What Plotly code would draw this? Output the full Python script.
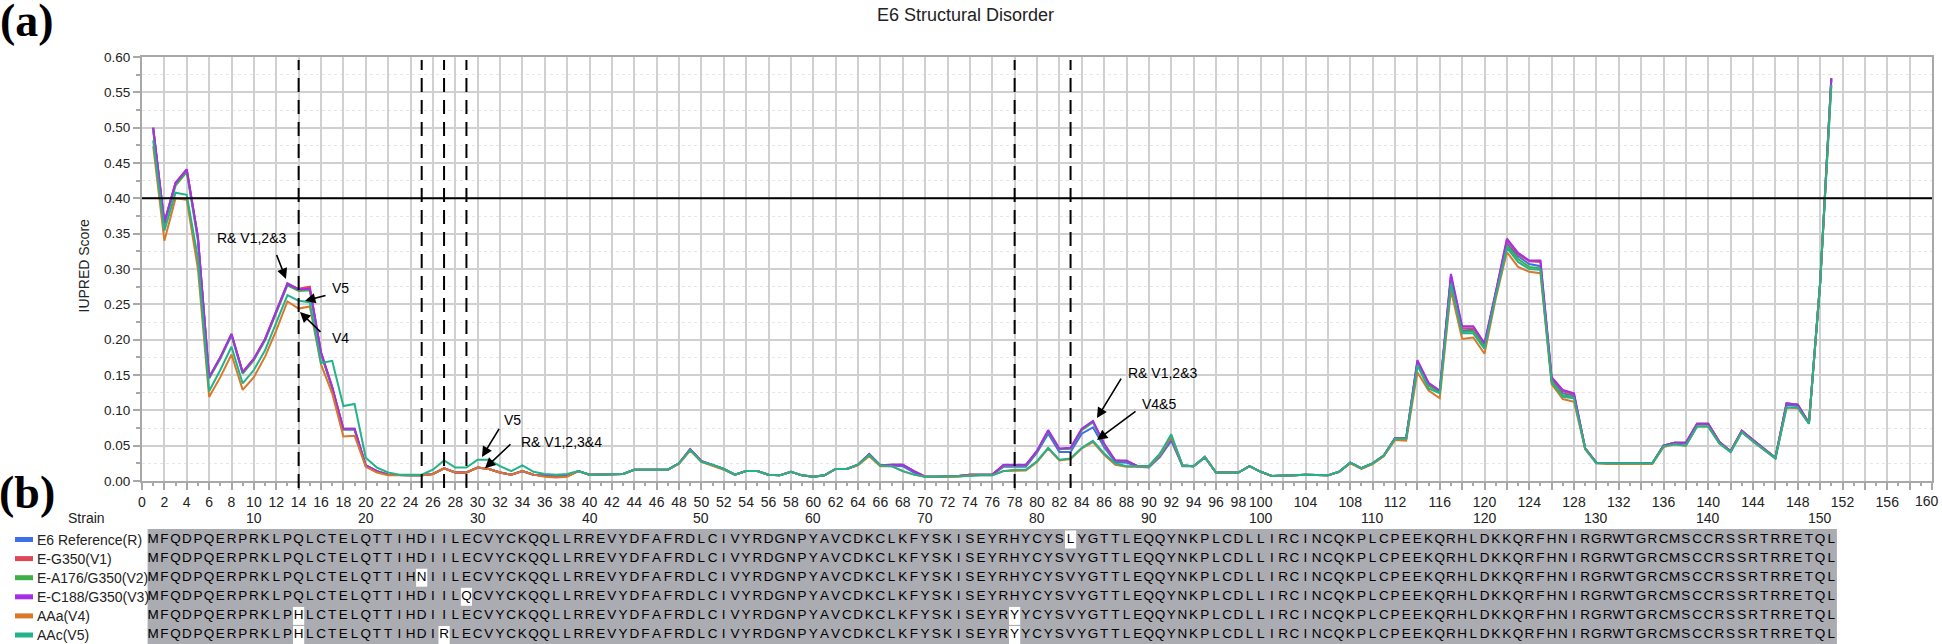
import plotly.graph_objects as go

# ---------------- data ----------------
positions = list(range(1, 152))

strains = ["E6 Reference(R)", "E-G350(V1)", "E-A176/G350(V2)",
           "E-C188/G350(V3)", "AAa(V4)", "AAc(V5)"]
colors = ["#3F6FE8", "#E0465A", "#3DAE49", "#A52EE8", "#D9782A", "#22B38A"]

score_R = [
    0.499, 0.365, 0.421, 0.440, 0.344, 0.146, 0.174, 0.207, 0.153, 0.172,
    0.200, 0.239, 0.280, 0.271, 0.272, 0.181, 0.132, 0.073, 0.073, 0.022,
    0.014, 0.009, 0.008, 0.008, 0.008, 0.010, 0.018, 0.012, 0.012, 0.019,
    0.017, 0.012, 0.009, 0.014, 0.009, 0.007, 0.006, 0.007, 0.014, 0.009,
    0.009, 0.009, 0.010, 0.016, 0.016, 0.016, 0.016, 0.025, 0.045, 0.028,
    0.023, 0.017, 0.009, 0.014, 0.014, 0.009, 0.008, 0.013, 0.008, 0.006,
    0.008, 0.017, 0.017, 0.023, 0.038, 0.022, 0.022, 0.021, 0.012, 0.006,
    0.006, 0.006, 0.007, 0.009, 0.009, 0.009, 0.020, 0.020, 0.020, 0.040,
    0.067, 0.041, 0.041, 0.067, 0.076, 0.048, 0.027, 0.026, 0.020, 0.019,
    0.034, 0.057, 0.021, 0.021, 0.033, 0.012, 0.012, 0.012, 0.021, 0.013,
    0.007, 0.007, 0.008, 0.009, 0.009, 0.008, 0.013, 0.026, 0.018, 0.025,
    0.036, 0.060, 0.060, 0.167, 0.136, 0.126, 0.288, 0.213, 0.214, 0.192,
    0.265, 0.336, 0.318, 0.307, 0.304, 0.144, 0.124, 0.121, 0.046, 0.026,
    0.025, 0.025, 0.025, 0.025, 0.025, 0.050, 0.054, 0.053, 0.080, 0.080,
    0.055, 0.042, 0.071, 0.058, 0.045, 0.033, 0.108, 0.106, 0.082, 0.280,
    0.568]

score_V1 = [
    0.500, 0.366, 0.422, 0.441, 0.345, 0.147, 0.175, 0.208, 0.154, 0.173,
    0.201, 0.239, 0.279, 0.272, 0.275, 0.182, 0.133, 0.074, 0.074, 0.022,
    0.014, 0.009, 0.008, 0.008, 0.008, 0.010, 0.018, 0.012, 0.012, 0.019,
    0.017, 0.012, 0.009, 0.014, 0.009, 0.007, 0.006, 0.007, 0.014, 0.009,
    0.009, 0.009, 0.010, 0.016, 0.016, 0.016, 0.016, 0.025, 0.045, 0.028,
    0.023, 0.017, 0.009, 0.014, 0.014, 0.009, 0.008, 0.013, 0.008, 0.006,
    0.008, 0.017, 0.017, 0.023, 0.038, 0.022, 0.023, 0.023, 0.014, 0.006,
    0.006, 0.006, 0.007, 0.009, 0.009, 0.009, 0.022, 0.022, 0.022, 0.042,
    0.071, 0.045, 0.046, 0.073, 0.084, 0.052, 0.029, 0.028, 0.021, 0.021,
    0.038, 0.062, 0.022, 0.021, 0.034, 0.012, 0.012, 0.012, 0.021, 0.013,
    0.007, 0.007, 0.008, 0.009, 0.009, 0.008, 0.013, 0.026, 0.018, 0.025,
    0.036, 0.061, 0.061, 0.169, 0.138, 0.127, 0.290, 0.216, 0.216, 0.194,
    0.266, 0.340, 0.321, 0.311, 0.310, 0.146, 0.127, 0.123, 0.046, 0.026,
    0.025, 0.025, 0.025, 0.025, 0.025, 0.050, 0.054, 0.054, 0.081, 0.081,
    0.055, 0.042, 0.071, 0.058, 0.045, 0.033, 0.110, 0.108, 0.082, 0.280,
    0.570]

score_V2 = [
    0.495, 0.362, 0.418, 0.437, 0.340, 0.145, 0.173, 0.206, 0.152, 0.171,
    0.199, 0.237, 0.277, 0.269, 0.270, 0.180, 0.131, 0.073, 0.073, 0.022,
    0.014, 0.009, 0.008, 0.008, 0.008, 0.010, 0.018, 0.012, 0.012, 0.019,
    0.017, 0.012, 0.009, 0.014, 0.009, 0.007, 0.006, 0.007, 0.014, 0.009,
    0.009, 0.009, 0.010, 0.016, 0.016, 0.016, 0.016, 0.025, 0.045, 0.028,
    0.023, 0.017, 0.009, 0.014, 0.014, 0.009, 0.008, 0.013, 0.008, 0.006,
    0.008, 0.017, 0.017, 0.023, 0.038, 0.022, 0.023, 0.023, 0.014, 0.006,
    0.006, 0.006, 0.007, 0.009, 0.009, 0.009, 0.022, 0.022, 0.022, 0.042,
    0.070, 0.045, 0.046, 0.072, 0.083, 0.051, 0.028, 0.028, 0.021, 0.021,
    0.038, 0.062, 0.022, 0.021, 0.034, 0.012, 0.012, 0.012, 0.021, 0.013,
    0.007, 0.007, 0.008, 0.009, 0.009, 0.008, 0.013, 0.026, 0.018, 0.025,
    0.036, 0.060, 0.060, 0.166, 0.135, 0.125, 0.285, 0.211, 0.212, 0.190,
    0.264, 0.333, 0.314, 0.303, 0.301, 0.142, 0.121, 0.119, 0.046, 0.026,
    0.025, 0.025, 0.025, 0.025, 0.025, 0.050, 0.054, 0.054, 0.081, 0.081,
    0.055, 0.042, 0.071, 0.058, 0.045, 0.033, 0.110, 0.108, 0.082, 0.280,
    0.570]

score_V3 = [
    0.500, 0.366, 0.422, 0.441, 0.345, 0.147, 0.175, 0.208, 0.154, 0.173,
    0.201, 0.239, 0.279, 0.271, 0.272, 0.182, 0.133, 0.074, 0.074, 0.022,
    0.014, 0.009, 0.008, 0.008, 0.008, 0.010, 0.018, 0.012, 0.012, 0.019,
    0.017, 0.012, 0.009, 0.014, 0.009, 0.007, 0.006, 0.007, 0.014, 0.009,
    0.009, 0.009, 0.010, 0.016, 0.016, 0.016, 0.016, 0.025, 0.045, 0.028,
    0.023, 0.017, 0.009, 0.014, 0.014, 0.009, 0.008, 0.013, 0.008, 0.006,
    0.008, 0.017, 0.017, 0.023, 0.038, 0.022, 0.023, 0.023, 0.014, 0.006,
    0.006, 0.006, 0.007, 0.009, 0.009, 0.009, 0.023, 0.023, 0.023, 0.043,
    0.072, 0.046, 0.047, 0.074, 0.085, 0.053, 0.029, 0.029, 0.021, 0.021,
    0.038, 0.062, 0.022, 0.021, 0.034, 0.012, 0.012, 0.012, 0.021, 0.013,
    0.007, 0.007, 0.008, 0.009, 0.009, 0.008, 0.013, 0.026, 0.018, 0.025,
    0.036, 0.061, 0.061, 0.171, 0.139, 0.128, 0.293, 0.219, 0.219, 0.195,
    0.267, 0.343, 0.323, 0.312, 0.312, 0.147, 0.129, 0.124, 0.046, 0.026,
    0.025, 0.025, 0.025, 0.025, 0.025, 0.050, 0.054, 0.054, 0.081, 0.081,
    0.055, 0.042, 0.071, 0.058, 0.045, 0.033, 0.110, 0.108, 0.082, 0.280,
    0.570]

score_V4 = [
    0.474, 0.340, 0.400, 0.398, 0.300, 0.119, 0.147, 0.179, 0.129, 0.147,
    0.176, 0.213, 0.254, 0.244, 0.247, 0.165, 0.124, 0.063, 0.064, 0.020,
    0.012, 0.008, 0.008, 0.008, 0.008, 0.010, 0.018, 0.012, 0.012, 0.019,
    0.017, 0.012, 0.009, 0.014, 0.009, 0.006, 0.005, 0.006, 0.014, 0.009,
    0.009, 0.009, 0.010, 0.016, 0.016, 0.016, 0.016, 0.024, 0.043, 0.027,
    0.022, 0.016, 0.009, 0.014, 0.014, 0.009, 0.008, 0.013, 0.008, 0.006,
    0.008, 0.017, 0.017, 0.022, 0.035, 0.021, 0.021, 0.014, 0.009, 0.006,
    0.006, 0.006, 0.006, 0.008, 0.008, 0.008, 0.014, 0.015, 0.015, 0.027,
    0.046, 0.029, 0.031, 0.046, 0.055, 0.037, 0.023, 0.020, 0.020, 0.020,
    0.037, 0.063, 0.022, 0.021, 0.034, 0.012, 0.012, 0.012, 0.021, 0.013,
    0.007, 0.007, 0.008, 0.009, 0.009, 0.008, 0.013, 0.025, 0.017, 0.024,
    0.035, 0.058, 0.057, 0.154, 0.128, 0.117, 0.270, 0.201, 0.203, 0.180,
    0.258, 0.324, 0.303, 0.296, 0.294, 0.137, 0.116, 0.112, 0.045, 0.025,
    0.024, 0.024, 0.024, 0.024, 0.024, 0.048, 0.052, 0.050, 0.077, 0.077,
    0.053, 0.041, 0.069, 0.056, 0.044, 0.032, 0.104, 0.103, 0.081, 0.280,
    0.560]

score_V5 = [
    0.482, 0.354, 0.408, 0.405, 0.315, 0.127, 0.157, 0.190, 0.138, 0.157,
    0.185, 0.225, 0.263, 0.255, 0.253, 0.167, 0.170, 0.106, 0.109, 0.033,
    0.019, 0.012, 0.009, 0.009, 0.009, 0.016, 0.029, 0.019, 0.019, 0.030,
    0.030, 0.021, 0.014, 0.022, 0.013, 0.010, 0.009, 0.010, 0.014, 0.009,
    0.009, 0.009, 0.010, 0.016, 0.016, 0.016, 0.016, 0.025, 0.044, 0.027,
    0.023, 0.017, 0.009, 0.014, 0.014, 0.009, 0.008, 0.013, 0.008, 0.006,
    0.008, 0.017, 0.017, 0.023, 0.037, 0.022, 0.021, 0.014, 0.009, 0.006,
    0.006, 0.006, 0.006, 0.007, 0.008, 0.008, 0.014, 0.016, 0.016, 0.028,
    0.047, 0.030, 0.032, 0.047, 0.057, 0.039, 0.025, 0.021, 0.021, 0.021,
    0.039, 0.066, 0.022, 0.021, 0.034, 0.012, 0.012, 0.012, 0.021, 0.013,
    0.007, 0.007, 0.008, 0.009, 0.009, 0.008, 0.013, 0.026, 0.018, 0.025,
    0.036, 0.060, 0.060, 0.164, 0.131, 0.124, 0.279, 0.209, 0.209, 0.187,
    0.262, 0.330, 0.310, 0.300, 0.299, 0.140, 0.119, 0.117, 0.046, 0.025,
    0.025, 0.025, 0.025, 0.025, 0.025, 0.049, 0.052, 0.050, 0.077, 0.077,
    0.053, 0.041, 0.069, 0.056, 0.044, 0.032, 0.104, 0.104, 0.081, 0.280,
    0.560]

scores = [score_R, score_V1, score_V2, score_V3, score_V4, score_V5]

seq_R = ("MFQDPQERPR" "KLPQLCTELQ" "TTIHDIILEC" "VYCKQQLLRR" "EVYDFAFRDL"
         "CIVYRDGNPY" "AVCDKCLKFY" "SKISEYRHYC" "YSLYGTTLEQ" "QYNKPLCDLL"
         "IRCINCQKPL" "CPEEKQRHLD" "KKQRFHNIRG" "RWTGRCMSCC" "RSSRTRRETQ" "L")
seq_V1 = ("MFQDPQERPR" "KLPQLCTELQ" "TTIHDIILEC" "VYCKQQLLRR" "EVYDFAFRDL"
          "CIVYRDGNPY" "AVCDKCLKFY" "SKISEYRHYC" "YSVYGTTLEQ" "QYNKPLCDLL"
          "IRCINCQKPL" "CPEEKQRHLD" "KKQRFHNIRG" "RWTGRCMSCC" "RSSRTRRETQ" "L")
seq_V2 = ("MFQDPQERPR" "KLPQLCTELQ" "TTIHNIILEC" "VYCKQQLLRR" "EVYDFAFRDL"
          "CIVYRDGNPY" "AVCDKCLKFY" "SKISEYRHYC" "YSVYGTTLEQ" "QYNKPLCDLL"
          "IRCINCQKPL" "CPEEKQRHLD" "KKQRFHNIRG" "RWTGRCMSCC" "RSSRTRRETQ" "L")
seq_V3 = ("MFQDPQERPR" "KLPQLCTELQ" "TTIHDIILQC" "VYCKQQLLRR" "EVYDFAFRDL"
          "CIVYRDGNPY" "AVCDKCLKFY" "SKISEYRHYC" "YSVYGTTLEQ" "QYNKPLCDLL"
          "IRCINCQKPL" "CPEEKQRHLD" "KKQRFHNIRG" "RWTGRCMSCC" "RSSRTRRETQ" "L")
seq_V4 = ("MFQDPQERPR" "KLPHLCTELQ" "TTIHDIILEC" "VYCKQQLLRR" "EVYDFAFRDL"
          "CIVYRDGNPY" "AVCDKCLKFY" "SKISEYRYYC" "YSVYGTTLEQ" "QYNKPLCDLL"
          "IRCINCQKPL" "CPEEKQRHLD" "KKQRFHNIRG" "RWTGRCMSCC" "RSSRTRRETQ" "L")
seq_V5 = ("MFQDPQERPR" "KLPHLCTELQ" "TTIHDIRLEC" "VYCKQQLLRR" "EVYDFAFRDL"
          "CIVYRDGNPY" "AVCDKCLKFY" "SKISEYRYYC" "YSVYGTTLEQ" "QYNKPLCDLL"
          "IRCINCQKPL" "CPEEKQRHLD" "KKQRFHNIRG" "RWTGRCMSCC" "RSSRTRRETQ" "L")
sequences = [seq_R, seq_V1, seq_V2, seq_V3, seq_V4, seq_V5]

# residues highlighted (row index, residue position)
highlights = [(0, 83), (2, 25), (3, 29), (4, 14), (4, 78), (5, 14), (5, 27), (5, 78)]
mutation_sites = [14, 25, 27, 29, 78, 83]
threshold = 0.40
seq_numbers = [10, 20, 30, 40, 50, 60, 70, 80, 90, 100, 110, 120, 130, 140, 150]

x_ticks = list(range(0, 161, 2))
X_LAST = 160   # last tick label, drawn as a right-aligned note so it stays in view
x_ticktext = [str(v) if ((v <= 100 or v % 4 == 0) and v != X_LAST) else ""
              for v in x_ticks]

# ---------------- layout geometry ----------------
W, H = 1942, 644
L, R, T, B = 142, 10, 57, 0
AREA_H = H - T - B            # height of the paper area
MAIN_BOTTOM = 481             # pixel row of the x axis
ALIGN_TOP = 529               # pixel row where the alignment block starts
ROW0, ROW_STEP = 539.5, 19.1  # pixel rows of the alignment lines
FONT = "Liberation Sans"


def py_paper(p):        # pixel row -> paper y
    return (H - B - p) / AREA_H


def px_paper(p):        # pixel col -> paper x
    return (p - L) / (W - L - R)


def row_of(p):          # pixel row -> alignment row coordinate
    return (p - ROW0) / ROW_STEP


fig = go.Figure()

for name, col, ys in zip(strains, colors, scores):
    fig.add_trace(go.Scatter(x=positions, y=ys, mode="lines", name=name,
                             line=dict(color=col, width=2), showlegend=False,
                             xaxis="x", yaxis="y"))

# sequence letters in the alignment panel
for i, seq in enumerate(sequences):
    fig.add_trace(go.Scatter(
        x=positions, y=[i] * len(seq), mode="text",
        text=list(seq), textposition="middle center",
        textfont=dict(family=FONT, size=13.5, color="#000000"),
        showlegend=False, hoverinfo="skip", xaxis="x2", yaxis="y2"))

shapes = []
# threshold line
shapes.append(dict(type="line", xref="x", yref="y", x0=0, x1=160,
                   y0=threshold, y1=threshold,
                   line=dict(color="black", width=2)))
# mutation site dashed lines
for m in mutation_sites:
    shapes.append(dict(type="line", xref="x", yref="paper", x0=m, x1=m,
                       y0=py_paper(488), y1=py_paper(60),
                       line=dict(color="black", width=2, dash="14px,8px")))
# alignment background
shapes.append(dict(type="rect", xref="x2", yref="y2", x0=0.5, x1=151.5,
                   y0=row_of(ALIGN_TOP), y1=row_of(H + 5), layer="below",
                   fillcolor="#ABABB2", line=dict(width=0)))
for r, p in highlights:
    shapes.append(dict(type="rect", xref="x2", yref="y2", x0=p - 0.5, x1=p + 0.5,
                       y0=r - 0.47, y1=r + 0.47,
                       layer="below", fillcolor="white", line=dict(width=0)))
# legend swatches
for i, col in enumerate(colors):
    rp = ROW0 + ROW_STEP * i
    shapes.append(dict(type="rect", xref="paper", yref="paper",
                       x0=px_paper(15), x1=px_paper(33),
                       y0=py_paper(rp + 2.5), y1=py_paper(rp - 2.5),
                       fillcolor=col, line=dict(width=0)))

ann = []


def note(text, x, y, size=14, xanchor="center", family=FONT, xref="paper",
         yref="paper", **kw):
    ann.append(dict(text=text, x=x, y=y, xref=xref, yref=yref, showarrow=False,
                    xanchor=xanchor, yanchor="middle",
                    font=dict(family=family, size=size, color=kw.pop("color", "#222")),
                    **kw))


note("E6 Structural Disorder", px_paper(965), py_paper(15), size=18)
note("<b>(a)</b>", px_paper(27), py_paper(21), size=46, family="Liberation Serif",
     color="black")
note("<b>(b)</b>", px_paper(27), py_paper(492), size=46, family="Liberation Serif",
     color="black")
note("IUPRED Score", px_paper(83.5), py_paper(266), size=14, textangle=-90)
note("Strain", px_paper(86), py_paper(518), size=14)
note(str(X_LAST), px_paper(1941), py_paper(500.5), size=14, xanchor="right")
for n in seq_numbers:
    note(str(n), n, py_paper(518), size=14, xref="x")
for i, s in enumerate(strains):
    note(s, px_paper(35), py_paper(ROW0 + ROW_STEP * i), size=14, xanchor="left")

# arrow annotations (label, label x/y, anchor, arrow tail x/y, arrow head x/y)
arrow_notes = [
    ("R& V1,2&3", 9.83, 0.344, "center", 11.98, 0.322, 12.87, 0.286),
    ("V5", 16.8, 0.273, "left", 16.54, 0.263, 14.57, 0.255),
    ("V4", 16.8, 0.202, "left", 16.09, 0.209, 14.12, 0.239),
    ("V5", 32.16, 0.086, "left", 32.0, 0.076, 30.39, 0.034),
    ("R& V1,2,3&4", 33.7, 0.055, "left", 33.07, 0.054, 30.66, 0.018),
    ("R& V1,2&3", 87.96, 0.153, "left", 87.6, 0.147, 85.36, 0.089),
    ("V4&5", 89.2, 0.109, "left", 88.94, 0.100, 85.36, 0.058),
]
for txt, tx, ty, anc, ax_, ay_, hx, hy in arrow_notes:
    note(txt, tx, ty, size=14, xanchor=anc, xref="x", yref="y", color="black")
    ann.append(dict(text="", xref="x", yref="y", x=hx, y=hy, axref="x", ayref="y",
                    ax=ax_, ay=ay_, showarrow=True, arrowhead=2, arrowsize=1.3,
                    arrowwidth=1.6, arrowcolor="black", standoff=0))

main_domain = [(H - B - MAIN_BOTTOM) / AREA_H, 1]
align_domain = [0, (H - B - ALIGN_TOP) / AREA_H]

fig.update_layout(
    width=W, height=H,
    margin=dict(l=L, r=R, t=T, b=B),
    paper_bgcolor="white", plot_bgcolor="white",
    shapes=shapes, annotations=ann,
    font=dict(family=FONT, color="#222"),
    xaxis=dict(range=[0, 160], anchor="y", tickmode="array", tickvals=x_ticks,
               ticktext=x_ticktext, automargin=False,
               showgrid=True, gridcolor="#D0D0D0", gridwidth=1.5,
               showline=True, linecolor="#A8A8A8", linewidth=2, mirror=True,
               ticks="outside", ticklen=7, tickcolor="#A8A8A8", tickwidth=1.5,
               tickfont=dict(family=FONT, size=14, color="#222"),
               zeroline=False,
               minor=dict(dtick=1, tick0=0, ticks="outside", ticklen=3,
                          tickcolor="#A8A8A8", showgrid=False)),
    yaxis=dict(domain=main_domain, range=[0, 0.6], anchor="x", automargin=False,
               tickmode="linear", tick0=0, dtick=0.05, tickformat=".2f",
               showgrid=True, gridcolor="#D0D0D0", gridwidth=1.5,
               showline=True, linecolor="#A8A8A8", linewidth=2, mirror=True,
               ticks="outside", ticklen=7, tickcolor="#A8A8A8", tickwidth=1.5,
               tickfont=dict(family=FONT, size=13.5, color="#222"),
               zeroline=False,
               minor=dict(dtick=0.025, ticks="outside", ticklen=4,
                          tickcolor="#A8A8A8", showgrid=True,
                          gridcolor="#E6E6E6", griddash="dot", gridwidth=1)),
    xaxis2=dict(range=[0, 160], anchor="y2", visible=False, showgrid=False,
                zeroline=False),
    yaxis2=dict(domain=align_domain, anchor="x2",
                range=[row_of(H), row_of(ALIGN_TOP)], visible=False,
                showgrid=False, zeroline=False),
)

fig.write_html("out.html", config={"displayModeBar": False},
               post_script="document.body.style.margin='0';document.body.style.padding='0';")
